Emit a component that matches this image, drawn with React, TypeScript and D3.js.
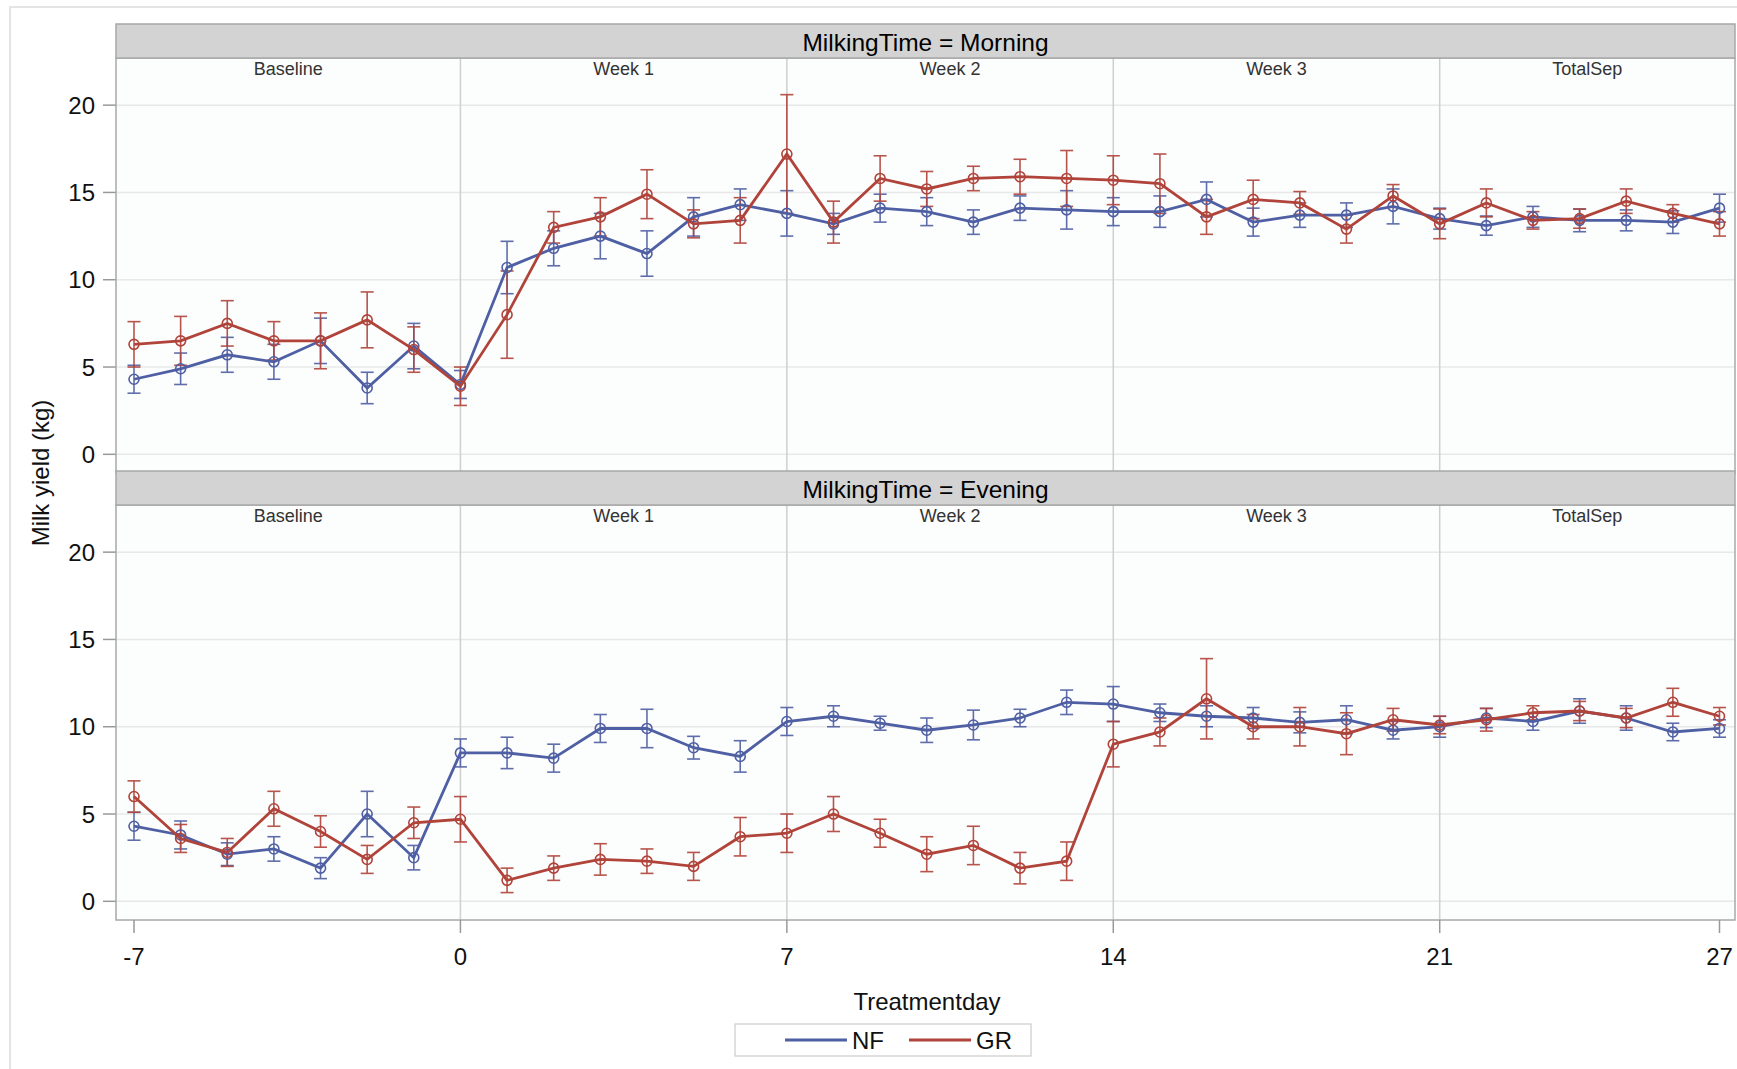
import React from "react";
import * as d3 from "d3";

const days = [-7, -6, -5, -4, -3, -2, -1, 0, 1, 2, 3, 4, 5, 6, 7, 8, 9, 10, 11, 12, 13, 14, 15, 16, 17, 18, 19, 20, 21, 22, 23, 24, 25, 26, 27];

const morningNF = [4.3, 4.9, 5.7, 5.3, 6.5, 3.8, 6.2, 4.0, 10.7, 11.8, 12.5, 11.5, 13.6, 14.3, 13.8, 13.2, 14.1, 13.9, 13.3, 14.1, 14.0, 13.9, 13.9, 14.6, 13.3, 13.7, 13.7, 14.2, 13.5, 13.1, 13.6, 13.4, 13.4, 13.3, 14.1];
const morningNFErr = [0.8, 0.9, 1.0, 1.0, 1.3, 0.9, 1.3, 0.8, 1.5, 1.0, 1.3, 1.3, 1.1, 0.9, 1.3, 0.6, 0.8, 0.8, 0.7, 0.7, 1.1, 0.8, 0.9, 1.0, 0.8, 0.7, 0.7, 1.0, 0.6, 0.55, 0.6, 0.65, 0.6, 0.65, 0.8];
const morningGR = [6.3, 6.5, 7.5, 6.5, 6.5, 7.7, 6.0, 3.9, 8.0, 13.0, 13.6, 14.9, 13.2, 13.4, 17.2, 13.3, 15.8, 15.2, 15.8, 15.9, 15.8, 15.7, 15.5, 13.6, 14.6, 14.4, 12.9, 14.8, 13.2, 14.4, 13.4, 13.5, 14.5, 13.8, 13.2];
const morningGRErr = [1.3, 1.4, 1.3, 1.1, 1.6, 1.6, 1.3, 1.1, 2.5, 0.9, 1.1, 1.4, 0.8, 1.3, 3.4, 1.2, 1.3, 1.0, 0.7, 1.0, 1.6, 1.4, 1.7, 1.0, 1.1, 0.65, 0.8, 0.65, 0.85, 0.8, 0.5, 0.55, 0.7, 0.5, 0.7];

const eveningNF = [4.3, 3.8, 2.7, 3.0, 1.9, 5.0, 2.5, 8.5, 8.5, 8.2, 9.9, 9.9, 8.8, 8.3, 10.3, 10.6, 10.2, 9.8, 10.1, 10.5, 11.4, 11.3, 10.8, 10.6, 10.5, 10.25, 10.4, 9.8, 10.0, 10.5, 10.3, 10.9, 10.5, 9.7, 9.9];
const eveningNFErr = [0.8, 0.8, 0.65, 0.7, 0.6, 1.3, 0.7, 0.8, 0.9, 0.8, 0.8, 1.1, 0.65, 0.9, 0.8, 0.6, 0.4, 0.7, 0.85, 0.5, 0.7, 1.0, 0.5, 0.6, 0.6, 0.6, 0.8, 0.5, 0.6, 0.55, 0.5, 0.7, 0.7, 0.5, 0.5];
const eveningGR = [6.0, 3.6, 2.8, 5.3, 4.0, 2.4, 4.5, 4.7, 1.2, 1.9, 2.4, 2.3, 2.0, 3.7, 3.9, 5.0, 3.9, 2.7, 3.2, 1.9, 2.3, 9.0, 9.7, 11.6, 10.0, 10.0, 9.6, 10.4, 10.1, 10.4, 10.8, 10.9, 10.5, 11.4, 10.6];
const eveningGRErr = [0.9, 0.8, 0.8, 1.0, 0.9, 0.8, 0.9, 1.3, 0.7, 0.7, 0.9, 0.7, 0.8, 1.1, 1.1, 1.0, 0.8, 1.0, 1.1, 0.9, 1.1, 1.3, 0.8, 2.3, 0.7, 1.1, 1.2, 0.65, 0.5, 0.65, 0.4, 0.55, 0.55, 0.8, 0.5];

const xTicks = [-7, 0, 7, 14, 21, 27];
const yTicks = [0, 5, 10, 15, 20];
const weekBreaks = [0, 7, 14, 21];
const weekLabels = ["Baseline", "Week 1", "Week 2", "Week 3", "TotalSep"];
const panelTitles = ["MilkingTime = Morning", "MilkingTime = Evening"];
const seriesNames = ["NF", "GR"];
const seriesColors = ["#4f5fa3", "#b0433a"];

const FONT = "'Liberation Sans', Arial, sans-serif";

const panelLeft = 116;
const panelRight = 1735;
const headerH = 34;
const panelTops = [24, 471];
const plotH = 415;

const x = d3.scaleLinear().domain([-7, 27]).range([134, 1719.5]);

function Panel({ idx, nf, nfErr, gr, grErr }) {
  const top = panelTops[idx];
  const plotTop = top + headerH;
  const plotBottom = plotTop + plotH;
  const y = d3.scaleLinear().domain([-1.07, 22.7]).range([plotBottom, plotTop]);
  const line = d3.line<number>().x((_, i) => x(days[i])).y((v) => y(v));
  const series = [
    { vals: nf, err: nfErr, color: seriesColors[0] },
    { vals: gr, err: grErr, color: seriesColors[1] },
  ];
  const bounds = [panelLeft, ...weekBreaks.map((d) => x(d)), panelRight];
  return (
    <g>
      <rect x={panelLeft} y={plotTop} width={panelRight - panelLeft} height={plotH} fill="#fcfdfd" />
      {yTicks.map((t) => (
        <line key={"g" + t} x1={panelLeft} x2={panelRight} y1={y(t)} y2={y(t)} stroke="#e8e8e8" strokeWidth={1.5} />
      ))}
      {weekBreaks.map((d) => (
        <line key={"w" + d} x1={x(d)} x2={x(d)} y1={plotTop} y2={plotBottom} stroke="#cfcfcf" strokeWidth={1.5} />
      ))}
      {weekLabels.map((lab, i) => (
        <text key={lab} x={(bounds[i] + bounds[i + 1]) / 2} y={plotTop + 17} fontSize={18} fill="#333" textAnchor="middle" fontFamily={FONT}>
          {lab}
        </text>
      ))}
      {yTicks.map((t) => (
        <g key={"t" + t}>
          <line x1={panelLeft - 13} x2={panelLeft} y1={y(t)} y2={y(t)} stroke="#999" strokeWidth={1.5} />
          <text x={95} y={y(t)} dy="0.36em" fontSize={24} textAnchor="end" fill="#111" fontFamily={FONT}>
            {t}
          </text>
        </g>
      ))}
      {series.map((s, si) => (
        <g key={"s" + si}>
          {s.vals.map((v, i) => {
            const cx = x(days[i]);
            const y1 = y(v + s.err[i]);
            const y2 = y(v - s.err[i]);
            return (
              <g key={i} stroke={s.color} strokeWidth={1.6} opacity={0.9}>
                <line x1={cx} x2={cx} y1={y1} y2={y2} />
                <line x1={cx - 6.5} x2={cx + 6.5} y1={y1} y2={y1} />
                <line x1={cx - 6.5} x2={cx + 6.5} y1={y2} y2={y2} />
              </g>
            );
          })}
        </g>
      ))}
      {series.map((s, si) => (
        <g key={"l" + si}>
          <path d={line(s.vals) || ""} fill="none" stroke={s.color} strokeWidth={2.8} />
          {s.vals.map((v, i) => (
            <circle key={i} cx={x(days[i])} cy={y(v)} r={5} fill="none" stroke={s.color} strokeWidth={1.6} />
          ))}
        </g>
      ))}
      <rect x={panelLeft} y={plotTop} width={panelRight - panelLeft} height={plotH} fill="none" stroke="#a8a8a8" strokeWidth={1.5} />
      <rect x={panelLeft} y={top} width={panelRight - panelLeft} height={headerH} fill="#d3d3d3" stroke="#a8a8a8" strokeWidth={1.5} />
      <text x={(panelLeft + panelRight) / 2} y={top + headerH / 2 + 1} dy="0.36em" fontSize={24.5} textAnchor="middle" fill="#000" fontFamily={FONT}>
        {panelTitles[idx]}
      </text>
    </g>
  );
}

export default function App() {
  const axisY = panelTops[1] + headerH + plotH;
  return (
    <svg width={1737} height={1069} style={{ position: "absolute", left: 0, top: 0, background: "#fff" }}>
      <rect x={10} y={7} width={1760} height={1100} fill="#fff" stroke="#dcdcdc" strokeWidth={1.5} />
      <Panel idx={0} nf={morningNF} nfErr={morningNFErr} gr={morningGR} grErr={morningGRErr} />
      <Panel idx={1} nf={eveningNF} nfErr={eveningNFErr} gr={eveningGR} grErr={eveningGRErr} />
      {xTicks.map((t) => (
        <g key={"x" + t}>
          <line x1={x(t)} x2={x(t)} y1={axisY} y2={axisY + 13} stroke="#999" strokeWidth={1.5} />
          <text x={x(t)} y={axisY + 45} fontSize={24} textAnchor="middle" fill="#111" fontFamily={FONT}>
            {t}
          </text>
        </g>
      ))}
      <text x={927} y={1010} fontSize={24} textAnchor="middle" fill="#111" fontFamily={FONT}>
        Treatmentday
      </text>
      <text transform={`translate(49,473) rotate(-90)`} fontSize={24} textAnchor="middle" fill="#111" fontFamily={FONT}>
        Milk yield (kg)
      </text>
      <rect x={735} y={1024} width={296} height={32} fill="#fff" stroke="#cccccc" strokeWidth={1.2} />
      {seriesNames.map((n, i) => {
        const lx = [785, 909][i];
        return (
          <g key={n}>
            <line x1={lx} x2={lx + 62} y1={1040} y2={1040} stroke={seriesColors[i]} strokeWidth={2.8} />
            <text x={lx + 67} y={1040} dy="0.36em" fontSize={24} fill="#111" fontFamily={FONT}>
              {n}
            </text>
          </g>
        );
      })}
    </svg>
  );
}
